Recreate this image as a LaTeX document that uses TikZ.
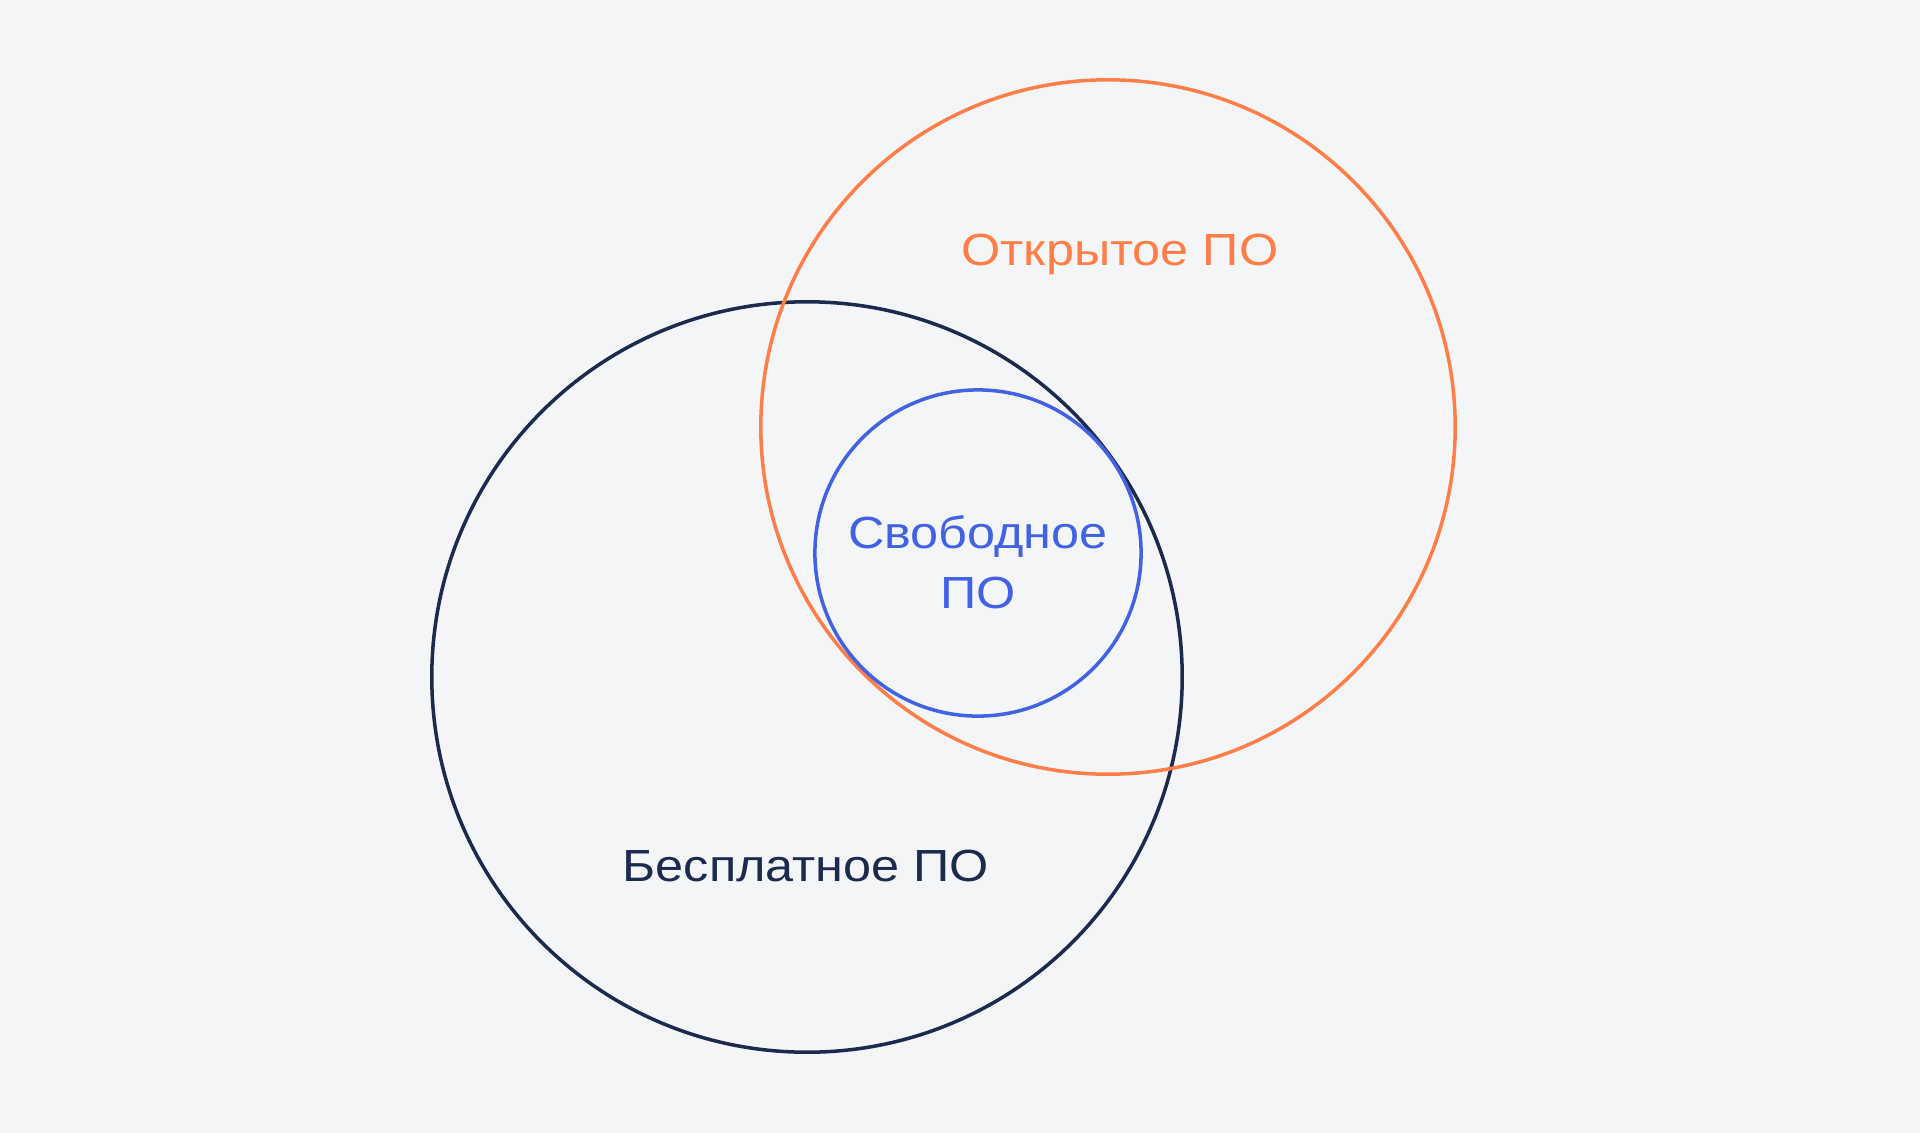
\documentclass[tikz,border=0pt]{standalone}
\usepackage{fontspec}
\setmainfont{Liberation Sans}[FakeStretch=1.12]
\definecolor{paper}{HTML}{F4F5F7}
\definecolor{freecol}{HTML}{1C2A4D}
\definecolor{opencol}{HTML}{FF7E48}
\definecolor{librecol}{HTML}{4262E4}
\begin{document}
\begin{tikzpicture}[x=0.01cm, y=-0.01cm,
  set/.style={draw, circle, line width=1pt, inner sep=0pt},
  setname/.style={font=\fontsize{12.8}{17}\selectfont, inner sep=0pt, anchor=base, align=center}]
\useasboundingbox[fill=paper] (0,0) rectangle (1920,1133);

\node[set, draw=freecol, minimum size=7.50cm] (free) at (807,677) {};
\node[set, draw=opencol, minimum size=6.94cm] (open) at (1108,427) {};
\node[set, draw=librecol, minimum size=3.26cm] (libre) at (978,553) {};

\node[setname, text=freecol] (freename) at (806,881) {Бесплатное ПО};
\node[setname, text=opencol] (openname) at (1120,265) {Открытое ПО};
\node[setname, text=librecol] (librename) at (978,608) {Свободное\\ПО};
\end{tikzpicture}
\end{document}
